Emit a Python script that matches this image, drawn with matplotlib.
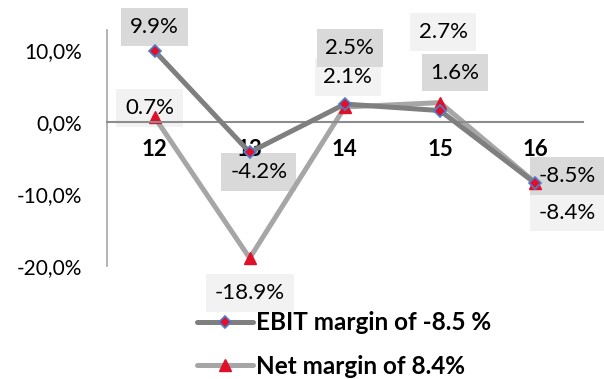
import matplotlib
matplotlib.use('Agg')
import matplotlib.pyplot as plt
from matplotlib.ticker import FuncFormatter

plt.rcParams['font.family'] = ['Lato', 'DejaVu Sans']

# dados
anos = ['12', '13', '14', '15', '16']
ebit = [9.9, -4.2, 2.5, 1.6, -8.5]
liquida = [0.7, -18.9, 2.1, 2.7, -8.4]
rotulo_ebit = 'EBIT margin of -8.5 %'
rotulo_liq = 'Net margin of 8.4%'

# deslocamentos dos rotulos (pixels)
off_ebit = [(0, 24), (9, -20), (5, 56), (15, 38), (32, 7)]
off_liq = [(-5, 9), (0, -35), (3, 30), (3, 71), (32, -30)]

fig = plt.figure(figsize=(6.04, 3.79), dpi=100)
ax = fig.add_axes([0.177, 0.298, 0.788, 0.623])

x = range(len(anos))
ax.plot(x, ebit, color='#7f7f7f', lw=3.6, solid_capstyle='round', zorder=3,
        marker='D', ms=6, mfc='#e0102a', mec='#4a7fd0', mew=1.2, label=rotulo_ebit)
ax.plot(x, liquida, color='#a6a6a6', lw=3.6, solid_capstyle='round', zorder=2,
        marker='^', ms=8, mfc='#e0102a', mec='#e0102a', label=rotulo_liq)

for i, v in enumerate(ebit):
    ax.annotate(f'{v}%', (i, v), xytext=off_ebit[i], textcoords='offset pixels',
                ha='center', va='center', fontsize=16, zorder=1.2,
                bbox=dict(boxstyle='square,pad=0.4', fc='#d9d9d9', ec='none'))
for i, v in enumerate(liquida):
    ax.annotate(f'{v}%', (i, v), xytext=off_liq[i], textcoords='offset pixels',
                ha='center', va='center', fontsize=16, zorder=1.1,
                bbox=dict(boxstyle='square,pad=0.4', fc='#f2f2f2', ec='none'))

for s in ['top', 'right']:
    ax.spines[s].set_visible(False)
ax.spines['bottom'].set_position(('data', 0))
ax.spines['bottom'].set_color('#8c8c8c')
ax.spines['bottom'].set_linewidth(1.5)
ax.spines['left'].set_color('#a6a6a6')
ax.spines['left'].set_linewidth(1.2)

ax.set_xlim(-0.5, 4.5)
ax.set_ylim(-20, 12.8)
ax.set_yticks([-20, -10, 0, 10])
ax.yaxis.set_major_formatter(FuncFormatter(lambda v, p: f'{v:.1f}%'.replace('.', ',')))
ax.set_xticks(list(x))
ax.set_xticklabels(anos, fontweight='bold', fontsize=16)
ax.tick_params(axis='x', length=0, pad=12)
ax.tick_params(axis='y', length=0, pad=18, labelsize=15)

leg = fig.legend(loc='center left', bbox_to_anchor=(0.326, 0.091), frameon=False,
                 borderpad=0, borderaxespad=0,
                 handlelength=2.3, handletextpad=0.15, labelspacing=0.85, numpoints=1,
                 prop=dict(weight='bold', size=17.5))

fig.savefig('out.png', dpi=100)
